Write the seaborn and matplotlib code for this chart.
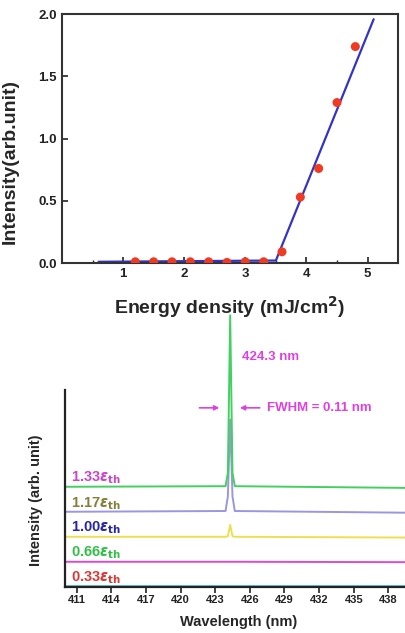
import numpy as np
import pandas as pd
import matplotlib
matplotlib.use('Agg')
import matplotlib.pyplot as plt
import seaborn as sns

# top panel: threshold curve
energy = [1.2, 1.5, 1.8, 2.1, 2.4, 2.7, 3.0, 3.3, 3.6, 3.9, 4.2, 4.5, 4.8]
intensity = [0.01, 0.01, 0.01, 0.01, 0.01, 0.005, 0.01, 0.01, 0.09, 0.53, 0.76, 1.29, 1.74]
fit_x = [0.6, 3.5, 5.1]
fit_y = [0.01, 0.02, 1.96]

# bottom panel: spectra (stacked, arbitrary offsets)
wavelength = [410, 423.9, 424.1, 424.3, 424.5, 424.7, 440]
spec_133 = [0.509, 0.512, 0.58, 1.38, 0.58, 0.512, 0.503]
spec_117 = [0.382, 0.386, 0.46, 0.85, 0.46, 0.386, 0.377]
spec_100 = [0.255, 0.255, 0.258, 0.315, 0.258, 0.255, 0.251]
spec_066 = [0.128, 0.128, 0.128, 0.128, 0.128, 0.128, 0.126]
spec_033 = [0.004, 0.004, 0.004, 0.004, 0.004, 0.004, 0.004]
line_colors = ['#44d060', '#9a96e2', '#ece050', '#e04ad0', '#60c8e0']
label_text = ['1.33', '1.17', '1.00', '0.66', '0.33']
label_colors = ['#c848c8', '#84803a', '#2626a8', '#30c048', '#d83a36']
label_y = [0.555, 0.425, 0.30, 0.175, 0.045]
xticks_bottom = [411, 414, 417, 420, 423, 426, 429, 432, 435, 438]

sns.set_style('ticks')
plt.rcParams['font.family'] = ['Liberation Sans', 'DejaVu Sans']
plt.rcParams['font.weight'] = 'bold'
plt.rcParams['mathtext.fontset'] = 'dejavusans'

fig = plt.figure(figsize=(4.05, 6.33), dpi=100)

# ---- top panel
ax1 = fig.add_axes([0.153, 0.5845, 0.830, 0.393])
sns.lineplot(x=fit_x, y=fit_y, ax=ax1, color='#3434c4', lw=1.6, sort=False, estimator=None)
sns.scatterplot(x=energy, y=intensity, ax=ax1, color='#f03a22', s=42, edgecolor='none', zorder=3)
ax1.set_xlim(0, 5.5)
ax1.set_ylim(0, 2.0)
ax1.set_xticks([1, 2, 3, 4, 5])
ax1.set_xticks(np.arange(0.5, 5.5, 1.0), minor=True)
ax1.set_yticks([0.0, 0.5, 1.0, 1.5, 2.0])
ax1.set_yticklabels(['0.0', '0.5', '1.0', '1.5', '2.0'])
ax1.tick_params(direction='in', length=4, width=1.2, labelsize=9.5, colors='#222222')
ax1.tick_params(which='minor', direction='in', length=2.5, width=1.0)
for lab in ax1.get_xticklabels() + ax1.get_yticklabels():
    lab.set_fontweight('bold')
for sp in ax1.spines.values():
    sp.set_linewidth(1.5)
    sp.set_color('#333333')
ax1.set_xlabel('Energy density (mJ/cm$^{\\mathbf{2}}$)', fontsize=14, fontweight='bold', labelpad=10)
ax1.set_ylabel('Intensity(arb.unit)', fontsize=14, fontweight='bold')
ax1.yaxis.set_label_coords(-0.128, 0.41)

# ---- bottom panel
ax2 = fig.add_axes([0.1605, 0.0727, 0.8556, 0.311])
spectra = [spec_133, spec_117, spec_100, spec_066, spec_033]
rows = []
for name, vals in zip(label_text, spectra):
    for w, v in zip(wavelength, vals):
        rows.append({'wl': w, 'val': v, 'level': name})
df = pd.DataFrame(rows)
# draw lower spectra first so the green one stays on top
for name, col in list(zip(label_text, line_colors))[::-1]:
    sub = df[df['level'] == name]
    sns.lineplot(data=sub, x='wl', y='val', ax=ax2, color=col, lw=1.4, sort=False, estimator=None)
for ln in ax2.lines:
    ln.set_clip_on(False)

ax2.set_xlim(410, 440)
ax2.set_ylim(0, 1)
ax2.set_xticks(xticks_bottom)
ax2.set_yticks([])
ax2.tick_params(axis='x', direction='out', length=4, width=1.2, labelsize=8, colors='#222222', pad=2)
for lab in ax2.get_xticklabels():
    lab.set_fontweight('bold')
ax2.spines['top'].set_visible(False)
ax2.spines['right'].set_visible(False)
for sp in ['left', 'bottom']:
    ax2.spines[sp].set_linewidth(1.6)
    ax2.spines[sp].set_color('#222222')
ax2.set_xlabel('Wavelength (nm)', fontsize=10.5, fontweight='bold', labelpad=7)
ax2.set_ylabel('Intensity (arb. unit)', fontsize=10.5, fontweight='bold')
ax2.yaxis.set_label_coords(-0.063, 0.44)

for t, c, y in zip(label_text, label_colors, label_y):
    ax2.text(410.55, y, t + r'$\varepsilon_{\rm th}$', color=c, fontsize=10.5,
             fontweight='bold', va='center', ha='left')

ax2.text(425.3, 1.167, '424.3 nm', color='#e040e0', fontsize=9.5, fontweight='bold',
         va='center', ha='left', clip_on=False)
ax2.text(427.5, 0.91, 'FWHM = 0.11 nm', color='#e040e0', fontsize=9.5, fontweight='bold',
         va='center', ha='left', clip_on=False)
ax2.annotate('', xy=(423.6, 0.91), xytext=(421.4, 0.91), annotation_clip=False,
             arrowprops=dict(arrowstyle='-|>', color='#e040e0', lw=1.2, mutation_scale=7))
ax2.annotate('', xy=(424.9, 0.91), xytext=(427.1, 0.91), annotation_clip=False,
             arrowprops=dict(arrowstyle='-|>', color='#e040e0', lw=1.2, mutation_scale=7))

fig.savefig('out.png', dpi=100)
